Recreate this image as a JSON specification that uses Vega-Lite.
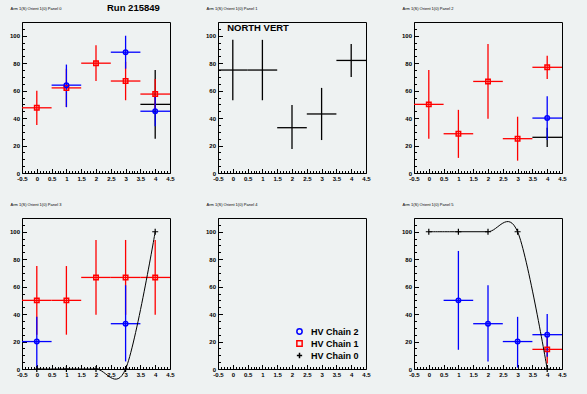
{
"$schema": "https://vega.github.io/schema/vega-lite/v6.json",
"background": "#eef2f2",
"padding": {"left": 8, "top": 3, "right": 21, "bottom": 17},
"title": {"text": "Run 215849", "anchor": "start", "frame": "group", "fontSize": 9.5, "fontWeight": "bold", "dx": 85, "offset": -6},
"columns": 3,
"spacing": {"row": 45, "column": 48},
"bounds": "flush",
"datasets": {
"pts": [
{"p":0,"s":"HV Chain 0","x":4,"y":50,"xlo":3.5,"xhi":4.5,"ylo":25,"yhi":75},
{"p":0,"s":"HV Chain 1","x":0,"y":47.5,"xlo":-0.5,"xhi":0.5,"ylo":35,"yhi":60},
{"p":0,"s":"HV Chain 1","x":1,"y":62,"xlo":0.5,"xhi":1.5,"ylo":48,"yhi":76},
{"p":0,"s":"HV Chain 1","x":2,"y":80,"xlo":1.5,"xhi":2.5,"ylo":67,"yhi":93},
{"p":0,"s":"HV Chain 1","x":3,"y":67,"xlo":2.5,"xhi":3.5,"ylo":53,"yhi":81},
{"p":0,"s":"HV Chain 1","x":4,"y":57.5,"xlo":3.5,"xhi":4.5,"ylo":46.5,"yhi":68.5},
{"p":0,"s":"HV Chain 2","x":1,"y":64,"xlo":0.5,"xhi":1.5,"ylo":48,"yhi":79},
{"p":0,"s":"HV Chain 2","x":3,"y":88,"xlo":2.5,"xhi":3.5,"ylo":76,"yhi":100},
{"p":0,"s":"HV Chain 2","x":4,"y":45,"xlo":3.5,"xhi":4.5,"ylo":34,"yhi":56},
{"p":1,"s":"HV Chain 0","x":0,"y":75,"xlo":-0.5,"xhi":0.5,"ylo":53,"yhi":97},
{"p":1,"s":"HV Chain 0","x":1,"y":75,"xlo":0.5,"xhi":1.5,"ylo":53,"yhi":97},
{"p":1,"s":"HV Chain 0","x":2,"y":33,"xlo":1.5,"xhi":2.5,"ylo":17.5,"yhi":49.5},
{"p":1,"s":"HV Chain 0","x":3,"y":43,"xlo":2.5,"xhi":3.5,"ylo":24,"yhi":62},
{"p":1,"s":"HV Chain 0","x":4,"y":82,"xlo":3.5,"xhi":4.5,"ylo":70,"yhi":94},
{"p":2,"s":"HV Chain 0","x":4,"y":26,"xlo":3.5,"xhi":4.5,"ylo":19,"yhi":33},
{"p":2,"s":"HV Chain 1","x":0,"y":50,"xlo":-0.5,"xhi":0.5,"ylo":25,"yhi":75},
{"p":2,"s":"HV Chain 1","x":1,"y":28.6,"xlo":0.5,"xhi":1.5,"ylo":11,"yhi":46},
{"p":2,"s":"HV Chain 1","x":2,"y":66.7,"xlo":1.5,"xhi":2.5,"ylo":39.5,"yhi":94},
{"p":2,"s":"HV Chain 1","x":3,"y":25,"xlo":2.5,"xhi":3.5,"ylo":9,"yhi":41},
{"p":2,"s":"HV Chain 1","x":4,"y":77,"xlo":3.5,"xhi":4.5,"ylo":68.5,"yhi":85.5},
{"p":2,"s":"HV Chain 2","x":4,"y":40,"xlo":3.5,"xhi":4.5,"ylo":24,"yhi":56},
{"p":3,"s":"HV Chain 0","x":0,"y":0},
{"p":3,"s":"HV Chain 0","x":1,"y":0},
{"p":3,"s":"HV Chain 0","x":2,"y":0},
{"p":3,"s":"HV Chain 0","x":3,"y":0},
{"p":3,"s":"HV Chain 0","x":4,"y":100},
{"p":3,"s":"HV Chain 1","x":0,"y":50,"xlo":-0.5,"xhi":0.5,"ylo":25,"yhi":75},
{"p":3,"s":"HV Chain 1","x":1,"y":50,"xlo":0.5,"xhi":1.5,"ylo":25,"yhi":75},
{"p":3,"s":"HV Chain 1","x":2,"y":66.7,"xlo":1.5,"xhi":2.5,"ylo":39.5,"yhi":94},
{"p":3,"s":"HV Chain 1","x":3,"y":66.7,"xlo":2.5,"xhi":3.5,"ylo":39.5,"yhi":94},
{"p":3,"s":"HV Chain 1","x":4,"y":66.7,"xlo":3.5,"xhi":4.5,"ylo":39.5,"yhi":94},
{"p":3,"s":"HV Chain 2","x":0,"y":20,"xlo":-0.5,"xhi":0.5,"ylo":1,"yhi":38},
{"p":3,"s":"HV Chain 2","x":3,"y":33,"xlo":2.5,"xhi":3.5,"ylo":5.5,"yhi":61},
{"p":5,"s":"HV Chain 0","x":0,"y":100},
{"p":5,"s":"HV Chain 0","x":1,"y":100},
{"p":5,"s":"HV Chain 0","x":2,"y":100},
{"p":5,"s":"HV Chain 0","x":3,"y":100},
{"p":5,"s":"HV Chain 0","x":4,"y":0},
{"p":5,"s":"HV Chain 1","x":4,"y":14.3,"xlo":3.5,"xhi":4.5,"ylo":4,"yhi":24},
{"p":5,"s":"HV Chain 2","x":1,"y":50,"xlo":0.5,"xhi":1.5,"ylo":14,"yhi":86},
{"p":5,"s":"HV Chain 2","x":2,"y":33,"xlo":1.5,"xhi":2.5,"ylo":5.5,"yhi":61},
{"p":5,"s":"HV Chain 2","x":3,"y":20,"xlo":2.5,"xhi":3.5,"ylo":1,"yhi":38},
{"p":5,"s":"HV Chain 2","x":4,"y":25,"xlo":3.5,"xhi":4.5,"ylo":9,"yhi":40}
],
"notes": [
{"p":1,"label":"NORTH VERT"}
]
},
"concat": [
{
"width": 148, "height": 151,
"title": "Arm 1(S) Orient 1(0) Panel 0",
"data": {"name": "pts"},
"transform": [{"filter": "datum.p == 0"}],
"encoding": {
 "x": {"field": "x", "type": "quantitative", "scale": {"domain": [-0.5, 4.5], "nice": false, "zero": false},
  "axis": {"values": [-0.5,-0.4,-0.3,-0.2,-0.1,0,0.1,0.2,0.3,0.4,0.5,0.6,0.7,0.8,0.9,1,1.1,1.2,1.3,1.4,1.5,1.6,1.7,1.8,1.9,2,2.1,2.2,2.3,2.4,2.5,2.6,2.7,2.8,2.9,3,3.1,3.2,3.3,3.4,3.5,3.6,3.7,3.8,3.9,4,4.1,4.2,4.3,4.4,4.5],
   "tickSize": {"condition": {"test": "abs(datum.value*2-round(datum.value*2))<0.01", "value": -4.5}, "value": -2.5},
   "labelExpr": "abs(datum.value*2-round(datum.value*2))<0.01 ? ''+round(datum.value*10)/10 : ''", "labelPadding": 7}},
 "y": {"field": "y", "type": "quantitative", "scale": {"domain": [0, 110], "nice": false, "zero": false},
  "axis": {"values": [0,5,10,15,20,25,30,35,40,45,50,55,60,65,70,75,80,85,90,95,100,105,110],
   "tickSize": {"condition": {"test": "datum.value % 20 == 0", "value": -4.5}, "value": -2.5},
   "labelExpr": "datum.value % 20 == 0 ? datum.label : ''", "labelPadding": 7}},
 "color": {"field": "s", "type": "nominal", "scale": {"domain": ["HV Chain 2","HV Chain 1","HV Chain 0"], "range": ["#0000ff","#ff0000","#000000"]}, "legend": null}
},
"layer": [
{"mark": {"type": "rule", "strokeWidth": 1.3}, "encoding": {"x": {"field": "xlo", "type": "quantitative"}, "x2": {"field": "xhi"}}},
{"mark": {"type": "rule", "strokeWidth": 1.3}, "encoding": {"y": {"field": "ylo", "type": "quantitative"}, "y2": {"field": "yhi"}}},
{"transform": [{"filter": "datum.s != 'HV Chain 0'"}],
 "mark": {"type": "point", "filled": false, "strokeWidth": 1.5, "size": 20, "opacity": 1},
 "encoding": {"shape": {"field": "s", "type": "nominal", "scale": {"domain": ["HV Chain 2","HV Chain 1","HV Chain 0"], "range": ["circle","square","M-1,0L1,0M0,-1L0,1"]}, "legend": null}}}
]
},
{
"width": 148, "height": 151,
"title": "Arm 1(S) Orient 1(0) Panel 1",
"layer": [
{"data": {"name": "pts"},
 "transform": [{"filter": "datum.p == 1"}],
 "mark": {"type": "rule", "strokeWidth": 1.3},
 "encoding": {
 "x": {"field": "xlo", "type": "quantitative", "scale": {"domain": [-0.5, 4.5], "nice": false, "zero": false},
  "axis": {"values": [-0.5,-0.4,-0.3,-0.2,-0.1,0,0.1,0.2,0.3,0.4,0.5,0.6,0.7,0.8,0.9,1,1.1,1.2,1.3,1.4,1.5,1.6,1.7,1.8,1.9,2,2.1,2.2,2.3,2.4,2.5,2.6,2.7,2.8,2.9,3,3.1,3.2,3.3,3.4,3.5,3.6,3.7,3.8,3.9,4,4.1,4.2,4.3,4.4,4.5],
   "tickSize": {"condition": {"test": "abs(datum.value*2-round(datum.value*2))<0.01", "value": -4.5}, "value": -2.5},
   "labelExpr": "abs(datum.value*2-round(datum.value*2))<0.01 ? ''+round(datum.value*10)/10 : ''", "labelPadding": 7}},
 "x2": {"field": "xhi"},
 "y": {"field": "y", "type": "quantitative", "scale": {"domain": [0, 110], "nice": false, "zero": false},
  "axis": {"values": [0,5,10,15,20,25,30,35,40,45,50,55,60,65,70,75,80,85,90,95,100,105,110],
   "tickSize": {"condition": {"test": "datum.value % 20 == 0", "value": -4.5}, "value": -2.5},
   "labelExpr": "datum.value % 20 == 0 ? datum.label : ''", "labelPadding": 7}},
 "color": {"field": "s", "type": "nominal", "scale": {"domain": ["HV Chain 2","HV Chain 1","HV Chain 0"], "range": ["#0000ff","#ff0000","#000000"]}, "legend": null}
 }},
{"data": {"name": "pts"},
 "transform": [{"filter": "datum.p == 1"}],
 "mark": {"type": "rule", "strokeWidth": 1.3},
 "encoding": {
 "x": {"field": "x", "type": "quantitative", "scale": {"domain": [-0.5, 4.5], "nice": false, "zero": false},
  "axis": {"values": [-0.5,-0.4,-0.3,-0.2,-0.1,0,0.1,0.2,0.3,0.4,0.5,0.6,0.7,0.8,0.9,1,1.1,1.2,1.3,1.4,1.5,1.6,1.7,1.8,1.9,2,2.1,2.2,2.3,2.4,2.5,2.6,2.7,2.8,2.9,3,3.1,3.2,3.3,3.4,3.5,3.6,3.7,3.8,3.9,4,4.1,4.2,4.3,4.4,4.5],
   "tickSize": {"condition": {"test": "abs(datum.value*2-round(datum.value*2))<0.01", "value": -4.5}, "value": -2.5},
   "labelExpr": "abs(datum.value*2-round(datum.value*2))<0.01 ? ''+round(datum.value*10)/10 : ''", "labelPadding": 7}},
 "y": {"field": "ylo", "type": "quantitative", "scale": {"domain": [0, 110], "nice": false, "zero": false},
  "axis": {"values": [0,5,10,15,20,25,30,35,40,45,50,55,60,65,70,75,80,85,90,95,100,105,110],
   "tickSize": {"condition": {"test": "datum.value % 20 == 0", "value": -4.5}, "value": -2.5},
   "labelExpr": "datum.value % 20 == 0 ? datum.label : ''", "labelPadding": 7}},
 "y2": {"field": "yhi"},
 "color": {"field": "s", "type": "nominal", "scale": {"domain": ["HV Chain 2","HV Chain 1","HV Chain 0"], "range": ["#0000ff","#ff0000","#000000"]}, "legend": null}
 }},
{"data": {"name": "notes"},
 "transform": [{"filter": "datum.p == 1"}],
 "mark": {"type": "text", "align": "left", "baseline": "alphabetic", "fontSize": 9.5, "fontWeight": "bold", "font": "Liberation Sans", "color": "black"},
 "encoding": {
 "x": {"datum": -0.19, "type": "quantitative", "scale": {"domain": [-0.5, 4.5], "nice": false, "zero": false},
  "axis": {"values": [-0.5,-0.4,-0.3,-0.2,-0.1,0,0.1,0.2,0.3,0.4,0.5,0.6,0.7,0.8,0.9,1,1.1,1.2,1.3,1.4,1.5,1.6,1.7,1.8,1.9,2,2.1,2.2,2.3,2.4,2.5,2.6,2.7,2.8,2.9,3,3.1,3.2,3.3,3.4,3.5,3.6,3.7,3.8,3.9,4,4.1,4.2,4.3,4.4,4.5],
   "tickSize": {"condition": {"test": "abs(datum.value*2-round(datum.value*2))<0.01", "value": -4.5}, "value": -2.5},
   "labelExpr": "abs(datum.value*2-round(datum.value*2))<0.01 ? ''+round(datum.value*10)/10 : ''", "labelPadding": 7}},
 "y": {"datum": 103.4, "type": "quantitative", "scale": {"domain": [0, 110], "nice": false, "zero": false},
  "axis": {"values": [0,5,10,15,20,25,30,35,40,45,50,55,60,65,70,75,80,85,90,95,100,105,110],
   "tickSize": {"condition": {"test": "datum.value % 20 == 0", "value": -4.5}, "value": -2.5},
   "labelExpr": "datum.value % 20 == 0 ? datum.label : ''", "labelPadding": 7}},
 "text": {"field": "label"}
 }}
]
},
{
"width": 148, "height": 151,
"title": "Arm 1(S) Orient 1(0) Panel 2",
"data": {"name": "pts"},
"transform": [{"filter": "datum.p == 2"}],
"encoding": {
 "x": {"field": "x", "type": "quantitative", "scale": {"domain": [-0.5, 4.5], "nice": false, "zero": false},
  "axis": {"values": [-0.5,-0.4,-0.3,-0.2,-0.1,0,0.1,0.2,0.3,0.4,0.5,0.6,0.7,0.8,0.9,1,1.1,1.2,1.3,1.4,1.5,1.6,1.7,1.8,1.9,2,2.1,2.2,2.3,2.4,2.5,2.6,2.7,2.8,2.9,3,3.1,3.2,3.3,3.4,3.5,3.6,3.7,3.8,3.9,4,4.1,4.2,4.3,4.4,4.5],
   "tickSize": {"condition": {"test": "abs(datum.value*2-round(datum.value*2))<0.01", "value": -4.5}, "value": -2.5},
   "labelExpr": "abs(datum.value*2-round(datum.value*2))<0.01 ? ''+round(datum.value*10)/10 : ''", "labelPadding": 7}},
 "y": {"field": "y", "type": "quantitative", "scale": {"domain": [0, 110], "nice": false, "zero": false},
  "axis": {"values": [0,5,10,15,20,25,30,35,40,45,50,55,60,65,70,75,80,85,90,95,100,105,110],
   "tickSize": {"condition": {"test": "datum.value % 20 == 0", "value": -4.5}, "value": -2.5},
   "labelExpr": "datum.value % 20 == 0 ? datum.label : ''", "labelPadding": 7}},
 "color": {"field": "s", "type": "nominal", "scale": {"domain": ["HV Chain 2","HV Chain 1","HV Chain 0"], "range": ["#0000ff","#ff0000","#000000"]}, "legend": null}
},
"layer": [
{"mark": {"type": "rule", "strokeWidth": 1.3}, "encoding": {"x": {"field": "xlo", "type": "quantitative"}, "x2": {"field": "xhi"}}},
{"mark": {"type": "rule", "strokeWidth": 1.3}, "encoding": {"y": {"field": "ylo", "type": "quantitative"}, "y2": {"field": "yhi"}}},
{"transform": [{"filter": "datum.s != 'HV Chain 0'"}],
 "mark": {"type": "point", "filled": false, "strokeWidth": 1.5, "size": 20, "opacity": 1},
 "encoding": {"shape": {"field": "s", "type": "nominal", "scale": {"domain": ["HV Chain 2","HV Chain 1","HV Chain 0"], "range": ["circle","square","M-1,0L1,0M0,-1L0,1"]}, "legend": null}}}
]
},
{
"width": 148, "height": 151,
"title": "Arm 1(S) Orient 1(0) Panel 3",
"data": {"name": "pts"},
"transform": [{"filter": "datum.p == 3"}],
"encoding": {
 "x": {"field": "x", "type": "quantitative", "scale": {"domain": [-0.5, 4.5], "nice": false, "zero": false},
  "axis": {"values": [-0.5,-0.4,-0.3,-0.2,-0.1,0,0.1,0.2,0.3,0.4,0.5,0.6,0.7,0.8,0.9,1,1.1,1.2,1.3,1.4,1.5,1.6,1.7,1.8,1.9,2,2.1,2.2,2.3,2.4,2.5,2.6,2.7,2.8,2.9,3,3.1,3.2,3.3,3.4,3.5,3.6,3.7,3.8,3.9,4,4.1,4.2,4.3,4.4,4.5],
   "tickSize": {"condition": {"test": "abs(datum.value*2-round(datum.value*2))<0.01", "value": -4.5}, "value": -2.5},
   "labelExpr": "abs(datum.value*2-round(datum.value*2))<0.01 ? ''+round(datum.value*10)/10 : ''", "labelPadding": 7}},
 "y": {"field": "y", "type": "quantitative", "scale": {"domain": [0, 110], "nice": false, "zero": false},
  "axis": {"values": [0,5,10,15,20,25,30,35,40,45,50,55,60,65,70,75,80,85,90,95,100,105,110],
   "tickSize": {"condition": {"test": "datum.value % 20 == 0", "value": -4.5}, "value": -2.5},
   "labelExpr": "datum.value % 20 == 0 ? datum.label : ''", "labelPadding": 7}},
 "color": {"field": "s", "type": "nominal", "scale": {"domain": ["HV Chain 2","HV Chain 1","HV Chain 0"], "range": ["#0000ff","#ff0000","#000000"]}, "legend": null}
},
"layer": [
{"transform": [{"filter": "datum.s != 'HV Chain 0'"}],
 "mark": {"type": "rule", "strokeWidth": 1.3}, "encoding": {"x": {"field": "xlo", "type": "quantitative"}, "x2": {"field": "xhi"}}},
{"transform": [{"filter": "datum.s != 'HV Chain 0'"}],
 "mark": {"type": "rule", "strokeWidth": 1.3}, "encoding": {"y": {"field": "ylo", "type": "quantitative"}, "y2": {"field": "yhi"}}},
{"transform": [{"filter": "datum.s != 'HV Chain 0'"}],
 "mark": {"type": "point", "filled": false, "strokeWidth": 1.5, "size": 20, "opacity": 1},
 "encoding": {"shape": {"field": "s", "type": "nominal", "scale": {"domain": ["HV Chain 2","HV Chain 1","HV Chain 0"], "range": ["circle","square","M-1,0L1,0M0,-1L0,1"]}, "legend": null}}},
{"transform": [{"filter": "datum.s == 'HV Chain 0'"}],
 "mark": {"type": "line", "interpolate": "cardinal", "tension": 0, "strokeWidth": 1}},
{"transform": [{"filter": "datum.s == 'HV Chain 0'"}],
 "mark": {"type": "point", "filled": false, "shape": "M-1,0L1,0M0,-1L0,1", "size": 36, "strokeWidth": 1.2, "opacity": 1}}
]
},
{
"width": 148, "height": 151,
"title": "Arm 1(S) Orient 1(0) Panel 4",
"data": {"name": "pts"},
"transform": [{"filter": "datum.p == 4"}],
"mark": {"type": "point", "filled": false, "strokeWidth": 1.5, "size": 20, "opacity": 1},
"encoding": {
 "x": {"field": "x", "type": "quantitative", "scale": {"domain": [-0.5, 4.5], "nice": false, "zero": false},
  "axis": {"values": [-0.5,-0.4,-0.3,-0.2,-0.1,0,0.1,0.2,0.3,0.4,0.5,0.6,0.7,0.8,0.9,1,1.1,1.2,1.3,1.4,1.5,1.6,1.7,1.8,1.9,2,2.1,2.2,2.3,2.4,2.5,2.6,2.7,2.8,2.9,3,3.1,3.2,3.3,3.4,3.5,3.6,3.7,3.8,3.9,4,4.1,4.2,4.3,4.4,4.5],
   "tickSize": {"condition": {"test": "abs(datum.value*2-round(datum.value*2))<0.01", "value": -4.5}, "value": -2.5},
   "labelExpr": "abs(datum.value*2-round(datum.value*2))<0.01 ? ''+round(datum.value*10)/10 : ''", "labelPadding": 7}},
 "y": {"field": "y", "type": "quantitative", "scale": {"domain": [0, 110], "nice": false, "zero": false},
  "axis": {"values": [0,5,10,15,20,25,30,35,40,45,50,55,60,65,70,75,80,85,90,95,100,105,110],
   "tickSize": {"condition": {"test": "datum.value % 20 == 0", "value": -4.5}, "value": -2.5},
   "labelExpr": "datum.value % 20 == 0 ? datum.label : ''", "labelPadding": 7}},
 "color": {"field": "s", "type": "nominal", "scale": {"domain": ["HV Chain 2","HV Chain 1","HV Chain 0"], "range": ["#0000ff","#ff0000","#000000"]},
  "legend": {"orient": "bottom-right", "title": null, "offset": 7, "padding": 0, "labelFont": "Liberation Sans", "labelFontWeight": "bold", "labelFontSize": 9, "symbolSize": 28, "symbolStrokeWidth": 1.5, "rowPadding": -1, "labelOffset": 7,
   "encode": {"labels": {"update": {"fill": {"signal": "datum.label == 'HV Chain 2' ? '#0000ff' : datum.label == 'HV Chain 1' ? '#ff0000' : '#000000'"}}}}}},
 "shape": {"field": "s", "type": "nominal", "scale": {"domain": ["HV Chain 2","HV Chain 1","HV Chain 0"], "range": ["circle","square","M-1,0L1,0M0,-1L0,1"]},
  "legend": {"orient": "bottom-right", "title": null, "offset": 7, "padding": 0, "labelFont": "Liberation Sans", "labelFontWeight": "bold", "labelFontSize": 9, "symbolSize": 28, "symbolStrokeWidth": 1.5, "rowPadding": -1, "labelOffset": 7,
   "encode": {"labels": {"update": {"fill": {"signal": "datum.label == 'HV Chain 2' ? '#0000ff' : datum.label == 'HV Chain 1' ? '#ff0000' : '#000000'"}}}}}}
}
},
{
"width": 148, "height": 151,
"title": "Arm 1(S) Orient 1(0) Panel 5",
"data": {"name": "pts"},
"transform": [{"filter": "datum.p == 5"}],
"encoding": {
 "x": {"field": "x", "type": "quantitative", "scale": {"domain": [-0.5, 4.5], "nice": false, "zero": false},
  "axis": {"values": [-0.5,-0.4,-0.3,-0.2,-0.1,0,0.1,0.2,0.3,0.4,0.5,0.6,0.7,0.8,0.9,1,1.1,1.2,1.3,1.4,1.5,1.6,1.7,1.8,1.9,2,2.1,2.2,2.3,2.4,2.5,2.6,2.7,2.8,2.9,3,3.1,3.2,3.3,3.4,3.5,3.6,3.7,3.8,3.9,4,4.1,4.2,4.3,4.4,4.5],
   "tickSize": {"condition": {"test": "abs(datum.value*2-round(datum.value*2))<0.01", "value": -4.5}, "value": -2.5},
   "labelExpr": "abs(datum.value*2-round(datum.value*2))<0.01 ? ''+round(datum.value*10)/10 : ''", "labelPadding": 7}},
 "y": {"field": "y", "type": "quantitative", "scale": {"domain": [0, 110], "nice": false, "zero": false},
  "axis": {"values": [0,5,10,15,20,25,30,35,40,45,50,55,60,65,70,75,80,85,90,95,100,105,110],
   "tickSize": {"condition": {"test": "datum.value % 20 == 0", "value": -4.5}, "value": -2.5},
   "labelExpr": "datum.value % 20 == 0 ? datum.label : ''", "labelPadding": 7}},
 "color": {"field": "s", "type": "nominal", "scale": {"domain": ["HV Chain 2","HV Chain 1","HV Chain 0"], "range": ["#0000ff","#ff0000","#000000"]}, "legend": null}
},
"layer": [
{"transform": [{"filter": "datum.s != 'HV Chain 0'"}],
 "mark": {"type": "rule", "strokeWidth": 1.3}, "encoding": {"x": {"field": "xlo", "type": "quantitative"}, "x2": {"field": "xhi"}}},
{"transform": [{"filter": "datum.s != 'HV Chain 0'"}],
 "mark": {"type": "rule", "strokeWidth": 1.3}, "encoding": {"y": {"field": "ylo", "type": "quantitative"}, "y2": {"field": "yhi"}}},
{"transform": [{"filter": "datum.s != 'HV Chain 0'"}],
 "mark": {"type": "point", "filled": false, "strokeWidth": 1.5, "size": 20, "opacity": 1},
 "encoding": {"shape": {"field": "s", "type": "nominal", "scale": {"domain": ["HV Chain 2","HV Chain 1","HV Chain 0"], "range": ["circle","square","M-1,0L1,0M0,-1L0,1"]}, "legend": null}}},
{"transform": [{"filter": "datum.s == 'HV Chain 0'"}],
 "mark": {"type": "line", "interpolate": "cardinal", "tension": 0, "strokeWidth": 1}},
{"transform": [{"filter": "datum.s == 'HV Chain 0'"}],
 "mark": {"type": "point", "filled": false, "shape": "M-1,0L1,0M0,-1L0,1", "size": 36, "strokeWidth": 1.2, "opacity": 1}}
]
}
],
"resolve": {
 "scale": {"x": "independent", "y": "independent", "color": "independent", "shape": "independent"},
 "axis": {"x": "independent", "y": "independent"},
 "legend": {"color": "independent", "shape": "independent"}
},
"config": {
 "view": {"stroke": "black", "strokeWidth": 1, "fill": null},
 "axis": {"domain": false, "grid": false, "title": null, "labelFont": "Liberation Sans", "labelFontWeight": "bold", "labelFontSize": 6, "labelColor": "black", "tickColor": "black", "tickWidth": 1, "labelOverlap": false, "labelFlush": false, "labelBound": false},
 "title": {"anchor": "start", "fontSize": 4, "font": "Liberation Sans", "fontWeight": "normal", "color": "black", "offset": 8, "baseline": "alphabetic", "dx": 1}
}
}
